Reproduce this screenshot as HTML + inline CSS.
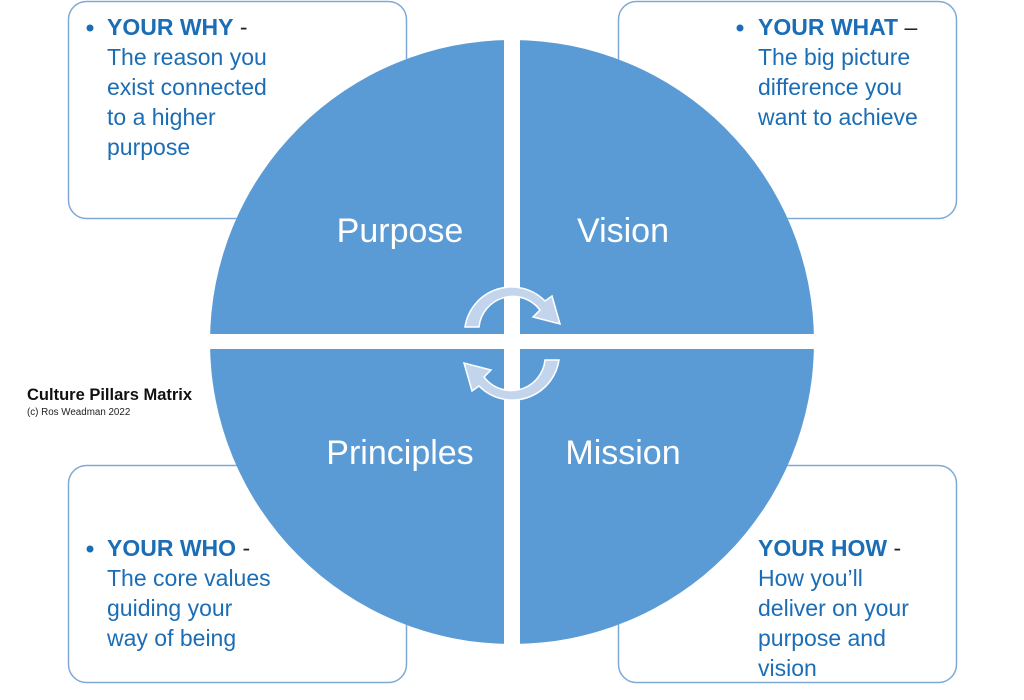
<!DOCTYPE html>
<html><head><meta charset="utf-8"><style>
html,body{margin:0;padding:0;background:#fff;}
svg{display:block;}
.t{font-family:"Liberation Sans",sans-serif;font-size:23px;fill:#1b6db5;}
.b{font-weight:bold;}
.q{font-family:"Liberation Sans",sans-serif;font-size:34px;fill:#fff;text-anchor:middle;}
</style></head><body>
<svg width="1024" height="700" viewBox="0 0 1024 700" xmlns="http://www.w3.org/2000/svg">
<defs><clipPath id="c"><circle cx="512" cy="342" r="302"/></clipPath></defs>
<g fill="#fff" stroke="#7ea9d6" stroke-width="1.5">
<rect x="68.5" y="1.5" width="338" height="217" rx="18"/>
<rect x="618.5" y="1.5" width="338" height="217" rx="18"/>
<rect x="68.5" y="465.5" width="338" height="217" rx="18"/>
<rect x="618.5" y="465.5" width="338" height="217" rx="18"/>
</g>
<g class="t">
<circle cx="90" cy="28" r="3.5" fill="#1b6db5"/>
<text x="107" y="35"><tspan class="b">YOUR WHY</tspan><tspan fill="#222"> -</tspan></text>
<text x="107" y="65">The reason you</text>
<text x="107" y="95">exist connected</text>
<text x="107" y="125">to a higher</text>
<text x="107" y="155">purpose</text>
<circle cx="740" cy="28" r="3.5" fill="#1b6db5"/>
<text x="758" y="35"><tspan class="b">YOUR WHAT</tspan><tspan fill="#222"> –</tspan></text>
<text x="758" y="65">The big picture</text>
<text x="758" y="95">difference you</text>
<text x="758" y="125">want to achieve</text>
<circle cx="90" cy="549" r="3.5" fill="#1b6db5"/>
<text x="107" y="556"><tspan class="b">YOUR WHO</tspan><tspan fill="#222"> -</tspan></text>
<text x="107" y="586">The core values</text>
<text x="107" y="616">guiding your</text>
<text x="107" y="646">way of being</text>
<text x="758" y="556"><tspan class="b">YOUR HOW</tspan><tspan fill="#222"> -</tspan></text>
<text x="758" y="586">How you’ll</text>
<text x="758" y="616">deliver on your</text>
<text x="758" y="646">purpose and</text>
<text x="758" y="676">vision</text>
</g>
<g clip-path="url(#c)" fill="#5b9bd5">
<rect x="200" y="30" width="304" height="304"/>
<rect x="520" y="30" width="304" height="304"/>
<rect x="200" y="349" width="304" height="310"/>
<rect x="520" y="349" width="304" height="310"/>
</g>
<text class="q" x="400" y="242">Purpose</text>
<text class="q" x="623" y="242">Vision</text>
<text class="q" x="400" y="464">Principles</text>
<text class="q" x="623" y="464">Mission</text>
<g fill="#c3d5ec" stroke="#fff" stroke-width="1.5">
<path d="M465,327 A47,47 0 0 1 545,301 L552,296 L560,324 L533,317 L540,310 A34,34 0 0 0 479,327 Z"/>
<path d="M559,360 A47,47 0 0 1 479,386 L472,391 L464,363 L491,370 L484,377 A34,34 0 0 0 545,360 Z"/>
</g>
<text x="27" y="400" style="font-family:'Liberation Sans',sans-serif;font-size:16.5px;font-weight:bold;fill:#111;">Culture Pillars Matrix</text>
<text x="27" y="415" style="font-family:'Liberation Sans',sans-serif;font-size:9.8px;fill:#222;">(c) Ros Weadman 2022</text>
</svg>
</body></html>
